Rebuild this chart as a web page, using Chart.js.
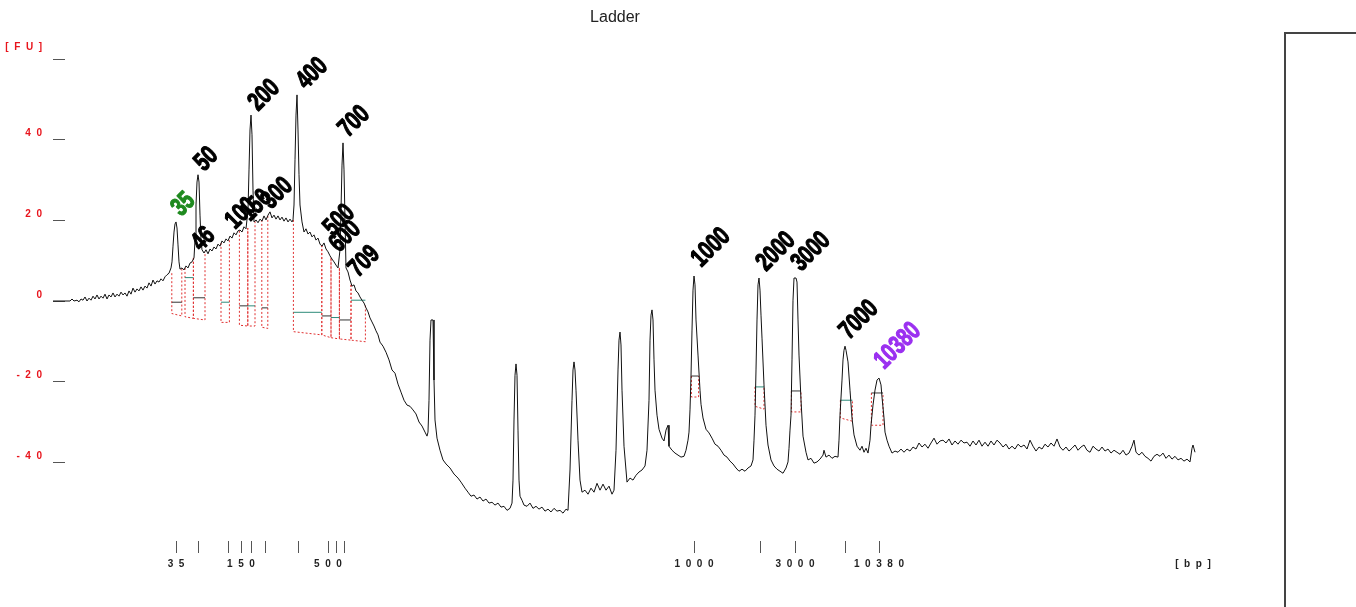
<!DOCTYPE html>
<html lang="en">
<head>
    <meta charset="UTF-8">
    <title>Ladder</title>
    <script src="https://cdn.jsdelivr.net/npm/chart.js"></script>
    <style>
        body {
            margin: 0;
            background: #fff;
            overflow: hidden;
        }

        #chart-div {
            position: absolute;
            left: 0;
            top: 0;
            width: 1276px;
            height: 607px;
        }

        #legend-box {
            position: absolute;
            left: 1284px;
            top: 32px;
            width: 140px;
            height: 700px;
            border: 2px solid #444;
            box-sizing: border-box;
        }
    </style>
</head>
<body>

    <div id="chart-div">
        <canvas id="chart"></canvas>
    </div>
    <div id="legend-box"></div>

    <script>
        // electropherogram trace, [migration time (s), fluorescence (FU)]
        const traceLowRange = [
            [20.00,0],[20.65,0],[20.85,0],[20.95,0.5],[21.05,0],[21.20,0.2],[21.30,-0.2],[21.40,0.5],[21.50,0.2],[21.60,1.0],
            [21.70,0],[21.80,0.7],[21.90,0.2],[22.00,1.2],[22.10,0.5],[22.20,1.5],[22.30,0.5],[22.40,1.2],[22.50,0.7],[22.60,1.7],
            [22.70,0.5],[22.80,1.5],[22.90,1.0],[23.00,2.0],[23.10,1.0],[23.20,1.7],[23.30,1.2],[23.40,2.2],[23.50,1.5],[23.60,2.0],
            [23.70,1.2],[23.80,2.5],[23.90,1.7],[24.00,3.2],[24.10,2.2],[24.20,3.0],[24.30,2.5],[24.40,3.5],[24.50,2.7],[24.60,3.7],
            [24.70,3.2],[24.80,4.5],[24.90,3.7],[25.00,5.2],[25.10,4.2],[25.20,5.0],[25.30,4.7],[25.40,5.5],[25.50,5.0],[25.60,6.0],
            [25.70,6.5],[25.80,6.9],[25.90,8.2],[25.95,9.7],[26.00,13.6],[26.05,17.1],[26.10,19.1],[26.15,19.6],[26.20,18.1],[26.25,13.9],
            [26.30,9.7],[26.35,7.9],[26.45,8.2],[26.55,7.7],[26.65,8.7],[26.75,8.2],[26.85,9.4],[26.95,9.7],[27.05,10.7],[27.10,15.1],
            [27.15,23.8],[27.20,29.5],[27.25,31.3],[27.30,29.5],[27.35,21.3],[27.40,15.1],[27.45,12.7],[27.55,11.9],[27.65,12.7],[27.75,11.7],
            [27.85,12.9],[27.95,12.4],[28.05,13.4],[28.15,12.9],[28.25,14.1],[28.35,13.6],[28.45,14.9],[28.55,14.4],[28.65,15.4],[28.75,14.9],
            [28.85,16.1],[28.95,15.6],[29.05,16.9],[29.15,16.4],[29.25,17.4],[29.35,17.6],[29.45,17.1],[29.55,18.4],[29.65,17.9],[29.75,22.6],
            [29.80,32.5],[29.85,42.4],[29.90,46.1],[29.95,41.2],[30.00,27.5],[30.05,19.6],[30.15,20.1],[30.25,19.4],[30.35,20.3],[30.45,19.8],
            [30.55,21.1],[30.65,20.1],[30.75,21.3],[30.85,22.1],[30.95,20.6],[31.05,21.3],[31.15,20.3],[31.25,21.1],[31.35,20.1],[31.45,20.8],
            [31.55,19.8],[31.65,20.6],[31.75,19.6],[31.85,20.3],[31.95,19.6],[32.00,20.1],[32.05,23.8],[32.10,35.0],[32.15,46.1],[32.20,51.1],
            [32.25,42.4],[32.30,31.3],[32.35,23.8],[32.45,19.6],[32.55,17.1],[32.65,17.9],[32.75,16.6],[32.85,17.1],[32.95,15.9],[33.05,16.4],
            [33.15,15.1],[33.25,15.6],[33.35,14.1],[33.45,13.6],[33.55,14.4],[33.65,12.9],[33.75,12.2],[33.85,11.2],[33.95,10.4],[34.05,9.7],
            [34.15,8.9],[34.25,8.2],[34.35,12.7],[34.40,22.6],[34.45,33.7],[34.50,39.2],[34.55,32.5],[34.60,20.1],[34.65,8.2],[34.75,7.2],
            [34.85,5.2],[34.95,3.7],[35.05,4.0],[35.15,2.5],[35.25,2.0],[35.35,1.0],[35.45,0.2],[35.55,-0.5],[35.65,-1.7],[35.75,-2.7],
            [35.85,-4.2],[35.95,-5.2],[36.05,-6.2],[36.15,-7.4],[36.25,-8.4],[36.35,-10.2],[36.50,-11.2],[36.65,-12.7],[36.80,-14.6],[36.95,-17.1],
            [37.10,-17.9],[37.25,-20.6],[37.40,-22.6],[37.55,-24.6],[37.70,-25.8],[37.85,-26.1],[38.00,-27.0],[38.15,-28.0],[38.30,-30.0],[38.45,-31.0],
            [38.60,-32.5],[38.70,-33.5]
        ];

        const traceMidRange = [
            [38.75,-32.5],[38.80,-24.6],[38.85,-9.7],[38.90,-4.7],[39.00,-4.7],[39.05,-19.6],[39.10,-29.5],[39.20,-34.0],[39.35,-37.0],[39.50,-39.4],
            [39.65,-40.4],[39.85,-41.4],[40.05,-42.9],[40.25,-43.9],[40.40,-44.9],[40.60,-46.4],[40.75,-47.4],[40.90,-48.4],[41.05,-48.1],[41.20,-49.1],
            [41.35,-48.6],[41.50,-49.6],[41.65,-49.1],[41.80,-50.1],[41.95,-49.9],[42.10,-50.6],[42.25,-50.1],[42.40,-51.1],[42.55,-50.9],[42.70,-51.9],
            [42.85,-51.4],[42.95,-50.1],[43.00,-44.4],[43.05,-29.5],[43.10,-18.4],[43.15,-15.6],[43.20,-18.4],[43.25,-32.0],[43.30,-44.4],[43.35,-48.4],
            [43.45,-49.4],[43.55,-50.6],[43.70,-50.9],[43.85,-50.1],[44.00,-51.4],[44.15,-50.9],[44.30,-51.6],[44.45,-51.1],[44.60,-52.1],[44.75,-51.6],
            [44.90,-52.3],[45.05,-51.4],[45.20,-52.1],[45.35,-51.9],[45.50,-52.6],[45.65,-51.6],[45.75,-51.9],[45.85,-41.9],[45.95,-24.6],[46.00,-17.1],
            [46.05,-15.1],[46.10,-17.1],[46.15,-22.1],[46.25,-34.5],[46.35,-44.4],[46.45,-47.4],[46.60,-46.9],[46.75,-47.9],[46.90,-46.4],[47.05,-47.4],
            [47.20,-45.2],[47.35,-46.9],[47.50,-45.4],[47.65,-46.9],[47.80,-45.9],[47.95,-47.9],[48.05,-46.9],[48.15,-37.0],[48.25,-17.1],[48.30,-9.7],
            [48.35,-7.7],[48.40,-10.9],[48.45,-22.1],[48.55,-36.0],[48.70,-44.9],[48.85,-43.9],[49.00,-44.4],[49.15,-43.2],[49.30,-42.4],[49.45,-41.9],
            [49.60,-40.9],[49.70,-37.0],[49.80,-24.6],[49.85,-9.7],[49.90,-3.5],[49.95,-2.2],[50.00,-4.7],[50.05,-14.6],[50.10,-22.1],[50.20,-28.3],
            [50.30,-31.8],[50.45,-34.0],[50.55,-34.7],[50.65,-32.0],[50.75,-30.8],[50.80,-36.0],[50.95,-37.0],[51.10,-37.7],[51.25,-38.2],[51.40,-38.7],
            [51.55,-38.5],[51.65,-37.0],[51.75,-34.5],[51.80,-32.5],[51.85,-27.0],[51.90,-18.6],[51.95,-7.2],[52.00,2.7],[52.05,6.2],[52.10,4.0],
            [52.15,-4.7],[52.25,-13.4],[52.35,-22.1],[52.40,-25.6],[52.50,-29.0],[52.65,-31.8],[52.80,-32.7],[52.95,-34.0],[53.10,-35.5],[53.25,-36.0],
            [53.40,-37.0],[53.55,-38.2],[53.70,-38.7],[53.85,-39.7],[54.00,-40.4],[54.15,-41.4],[54.30,-42.2],[54.45,-41.7],[54.60,-42.2],[54.75,-41.4],
            [54.90,-40.9],[55.00,-39.4],[55.05,-34.5],[55.10,-28.3],[55.15,-17.1],[55.20,-4.7],[55.25,4.0],[55.30,5.7],[55.35,2.7],[55.40,-3.5],
            [55.45,-9.2],[55.55,-20.8],[55.65,-30.8],[55.75,-35.7],[55.90,-39.4],[56.05,-40.9],[56.20,-41.7],[56.35,-42.2],[56.50,-42.7],[56.65,-41.4],
            [56.75,-39.9],[56.80,-36.5],[56.85,-32.0],[56.90,-28.3],[56.95,-14.6],[57.00,0.2],[57.05,5.7],[57.15,5.7],[57.20,4.7],[57.25,-4.7],
            [57.30,-13.4],[57.40,-24.6],[57.50,-33.5],[57.65,-37.5],[57.75,-39.4],[57.90,-39.0],[58.05,-40.2],[58.20,-39.9],[58.35,-39.2],[58.50,-38.2],
            [58.55,-37.0],[58.65,-38.7],[58.80,-38.2],[58.95,-39.0],[59.10,-38.5],[59.25,-38.7],[59.30,-34.5],[59.35,-28.3],[59.45,-19.6],[59.50,-14.6],
            [59.55,-12.2],[59.60,-11.2],[59.65,-12.2],[59.75,-15.1],[59.85,-22.1],[59.95,-29.0],[60.05,-33.2],[60.20,-36.0],[60.35,-37.0],[60.45,-36.0],
            [60.55,-37.5],[60.65,-36.5],[60.75,-37.7],[60.85,-34.5],[60.90,-30.8],[61.00,-25.8],[61.10,-22.1],[61.20,-19.6],[61.30,-19.1],[61.40,-20.8],
            [61.45,-23.8],[61.55,-29.0],[61.60,-32.5],[61.70,-34.5],[61.80,-36.0],[61.95,-37.7],[62.10,-37.2],[62.25,-37.5],[62.40,-36.7],[62.55,-37.5],
            [62.70,-36.7],[62.85,-37.2]
        ];

        const traceTail = [
            [63.00,-36.2],[63.15,-36.7],[63.30,-35.2],[63.45,-36.2],[63.60,-35.5],[63.75,-36.5],[63.90,-35.2],[64.05,-34.0],[64.20,-35.5],[64.35,-34.7],
            [64.50,-34.5],[64.65,-35.2],[64.80,-34.2],[64.95,-35.7],[65.10,-34.7],[65.25,-35.5],[65.40,-34.5],[65.55,-35.2],[65.70,-35.0],[65.85,-36.0],
            [66.00,-34.7],[66.15,-35.7],[66.30,-34.5],[66.45,-36.0],[66.60,-35.0],[66.75,-36.0],[66.90,-34.7],[67.05,-35.7],[67.20,-34.5],[67.35,-35.2],
            [67.50,-36.2],[67.65,-35.5],[67.80,-36.7],[67.95,-36.0],[68.10,-36.7],[68.25,-35.5],[68.40,-36.2],[68.55,-35.7],[68.70,-36.7],[68.85,-34.5],
            [69.00,-36.0],[69.15,-37.2],[69.30,-36.2],[69.45,-36.7],[69.60,-35.5],[69.75,-36.2],[69.90,-35.2],[70.05,-36.0],[70.20,-34.2],[70.35,-36.2],
            [70.50,-37.0],[70.65,-36.2],[70.80,-37.2],[70.95,-36.5],[71.10,-35.7],[71.25,-37.0],[71.40,-36.2],[71.55,-35.7],[71.70,-37.0],[71.85,-37.5],
            [72.00,-36.0],[72.15,-36.7],[72.30,-37.2],[72.45,-36.2],[72.60,-37.2],[72.75,-36.7],[72.90,-37.7],[73.05,-37.0],[73.20,-37.5],[73.35,-38.0],
            [73.50,-37.0],[73.65,-38.2],[73.80,-37.7],[73.95,-36.0],[74.05,-34.5],[74.15,-37.5],[74.30,-38.2],[74.45,-37.5],[74.60,-38.5],[74.75,-39.0],
            [74.90,-39.7],[75.05,-38.5],[75.20,-38.0],[75.35,-38.5],[75.50,-37.7],[75.65,-39.0],[75.80,-38.2],[75.95,-39.2],[76.10,-38.5],[76.25,-39.4],
            [76.40,-39.0],[76.55,-39.7],[76.70,-39.2],[76.85,-39.9],[76.95,-36.5],[77.00,-35.7],[77.10,-37.5]
        ];

        // axis ticks
        const fuTicks = [60, 40, 20, 0, -20, -40];
        const ladderSizes = ['35', '50', '100', '150', '200', '300', '400', '500', '600', '700', '1000', '2000', '3000', '7000', '10380'];
        const ladderTimes = [26.15, 27.25, 28.75, 29.40, 29.90, 30.60, 32.25, 33.75, 34.15, 34.55, 52.05, 55.35, 57.10, 59.60, 61.30];
        const labelledSizes = ['35', '150', '500', '1000', '3000', '10380'];
        const bpUnitTime = 77.0;

        // called peak sizes and where their labels start
        const peakNames = ['35', '50', '46', '100', '150', '300', '200', '400', '500', '600', '709', '700', '1000', '2000', '3000', '7000', '10380'];
        const peakLabelTimes = [26.40, 27.55, 27.40, 29.10, 29.85, 30.90, 30.25, 32.65, 34.00, 34.30, 35.25, 34.75, 52.40, 55.65, 57.40, 59.80, 61.55];
        const peakLabelFU = [20.8, 32.0, 12.2, 17.6, 19.6, 22.6, 46.9, 52.3, 15.9, 11.9, 5.7, 40.4, 8.2, 7.2, 7.2, -9.7, -17.1];
        const lowerMarker = '35';
        const upperMarker = '10380';

        // integration regions
        const regionStart = [25.94, 26.60, 27.02, 28.40, 29.32, 29.74, 30.44, 32.02, 33.44, 33.90, 34.32, 34.90, 51.92, 55.10, 56.92, 59.37, 60.92];
        const regionEnd = [26.44, 27.02, 27.60, 28.82, 29.74, 30.10, 30.74, 33.44, 33.90, 34.32, 34.90, 35.62, 52.28, 55.55, 57.40, 59.97, 61.50];
        const regionStartTop = [6.9, 8.2, 10.7, 14.4, 17.4, 18.1, 20.1, 20.1, 13.9, 10.7, 8.2, 4.0, -18.6, -21.3, -22.3, -24.6, -22.8];
        const regionEndTop = [8.2, 10.7, 12.2, 15.1, 18.1, 20.1, 21.1, 13.9, 10.7, 8.2, 4.0, -1.0, -18.6, -21.3, -22.3, -24.6, -22.8];
        const regionStartBase = [-3.1, -3.9, -4.3, -5.3, -6.0, -6.2, -6.5, -7.6, -8.4, -9.1, -9.4, -9.7, -23.8, -26.1, -27.5, -29.0, -30.8];
        const regionEndBase = [-3.7, -4.3, -4.7, -5.3, -6.2, -6.2, -6.8, -8.4, -9.1, -9.4, -9.7, -10.1, -23.8, -26.8, -27.5, -29.8, -30.8];
        const regionLevel = [-0.3, 5.8, 0.8, -0.3, -1.2, -1.2, -1.7, -2.8, -3.7, -4.1, -4.7, 0.2, -18.6, -21.3, -22.3, -24.6, -22.8];

        const spaced = s => s.split('').join('  ');

        const trace = traceLowRange.concat(traceMidRange, traceTail).map(p => ({x: p[0], y: p[1]}));

        const xTickValues = ladderTimes.concat([bpUnitTime]);
        const xTickText = ladderSizes.map(s => labelledSizes.includes(s) ? spaced(s) : '').concat(['[  b  p  ]']);

        const dashed = [];
        const darkMarks = [];
        const tealMarks = [];
        regionStart.forEach((s, i) => {
            const e = regionEnd[i];
            dashed.push({x: s, y: regionStartTop[i]}, {x: s, y: regionStartBase[i]},
                        {x: e, y: regionEndBase[i]}, {x: e, y: regionEndTop[i]}, {x: e, y: null});
            const marks = i % 2 === 0 ? darkMarks : tealMarks;
            marks.push({x: s, y: regionLevel[i]}, {x: e, y: regionLevel[i]}, {x: e, y: null});
        });

        // rotated size labels over the peaks (heavy, condensed look)
        const peakLabels = {
            id: 'peakLabels',
            afterDatasetsDraw(chart) {
                const {ctx, scales} = chart;
                ctx.save();
                ctx.font = 'bold 26px Arial, "Liberation Sans", sans-serif';
                ctx.textAlign = 'left';
                ctx.textBaseline = 'alphabetic';
                ctx.lineWidth = 1.2;
                ctx.lineJoin = 'round';
                peakNames.forEach((name, i) => {
                    const colour = name === lowerMarker ? '#1f8a1f' : name === upperMarker ? '#9b30f0' : '#000';
                    ctx.save();
                    ctx.translate(scales.x.getPixelForValue(peakLabelTimes[i]), scales.y.getPixelForValue(peakLabelFU[i]));
                    ctx.rotate(-Math.PI / 4);
                    ctx.scale(0.74, 1);
                    ctx.fillStyle = colour;
                    ctx.strokeStyle = colour;
                    ctx.fillText(name, 0, 0);
                    ctx.strokeText(name, 0, 0);
                    ctx.restore();
                });
                ctx.restore();
            }
        };

        const ctx = document.getElementById('chart').getContext('2d');
        const chart = new Chart(ctx, {
            type: 'line',
            data: {
                datasets: [{
                    label: 'Ladder',
                    data: trace,
                    borderColor: '#111',
                    borderWidth: 1,
                    pointRadius: 0,
                    tension: 0
                }, {
                    data: darkMarks,
                    borderColor: '#333',
                    borderWidth: 1,
                    pointRadius: 0,
                    spanGaps: false
                }, {
                    data: tealMarks,
                    borderColor: '#2e8b7a',
                    borderWidth: 1,
                    pointRadius: 0,
                    spanGaps: false
                }, {
                    data: dashed,
                    borderColor: '#e03030',
                    borderWidth: 1,
                    borderDash: [2, 2],
                    pointRadius: 0,
                    spanGaps: false
                }]
            },
            options: {
                responsive: true,
                maintainAspectRatio: false,
                animation: false,
                layout: {
                    padding: {top: 0, right: 46, bottom: 32, left: 0}
                },
                plugins: {
                    legend: {display: false},
                    tooltip: {enabled: false},
                    title: {
                        display: true,
                        text: 'Ladder',
                        color: '#222',
                        font: {family: 'Arial', size: 16, weight: 'normal'},
                        padding: {top: 8, bottom: 31.8}
                    }
                },
                scales: {
                    x: {
                        type: 'linear',
                        min: 20,
                        max: 78.85,
                        border: {display: false},
                        grid: {
                            drawOnChartArea: false,
                            tickLength: 12,
                            color: c => (c.tick && c.tick.value === bpUnitTime) ? 'rgba(0,0,0,0)' : '#555'
                        },
                        afterBuildTicks: s => { s.ticks = xTickValues.map(v => ({value: v})); },
                        ticks: {
                            autoSkip: false,
                            maxRotation: 0,
                            minRotation: 0,
                            padding: 5,
                            color: '#222',
                            font: {family: 'Arial', size: 10, weight: 'bold'},
                            callback: (v, i) => xTickText[i]
                        }
                    },
                    y: {
                        min: -59.5,
                        max: 60,
                        border: {display: false},
                        grid: {
                            drawOnChartArea: false,
                            tickLength: -12,
                            color: '#555'
                        },
                        afterBuildTicks: s => { s.ticks = fuTicks.map(v => ({value: v})); },
                        afterFit: s => { s.width = 53; },
                        ticks: {
                            padding: 23,
                            labelOffset: -6,
                            color: '#e8141c',
                            font: {family: 'Arial', size: 10, weight: 'bold'},
                            callback: v => v === 60 ? ['[  F  U  ]', ''] : spaced(String(v))
                        }
                    }
                }
            },
            plugins: [peakLabels]
        });
    </script>
</body>
</html>
